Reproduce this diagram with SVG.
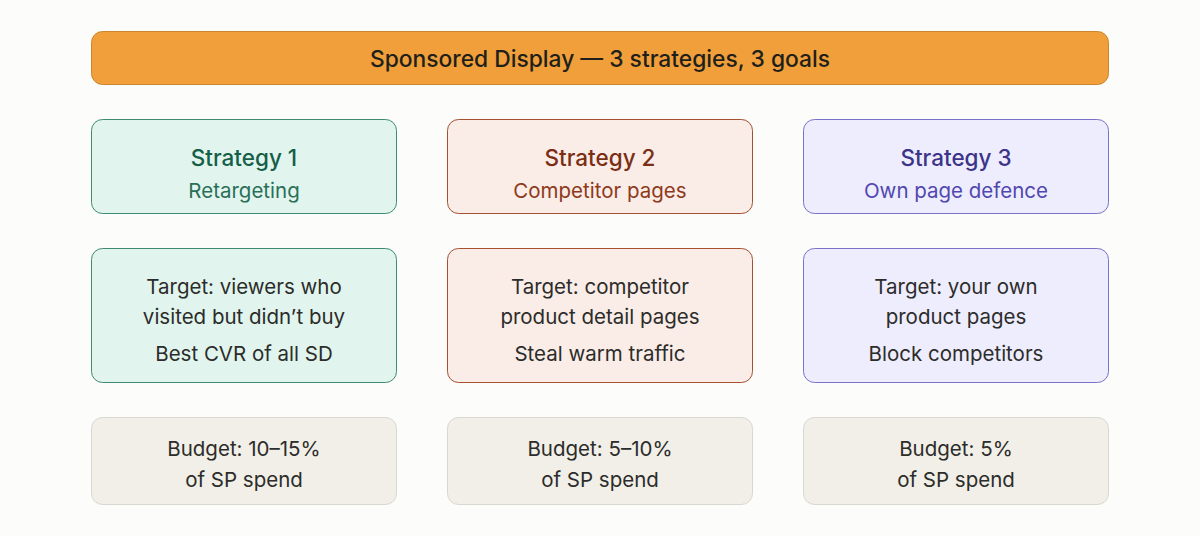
<svg xmlns="http://www.w3.org/2000/svg" width="1200" height="536" viewBox="0 0 1200 536">
<style>
text{font-family:Inter,"Noto Sans","Liberation Sans",sans-serif;text-anchor:middle}
.t{font-size:22.8px;font-weight:500;fill:#1f1f1c}
.h{font-size:22.5px;font-weight:500}
.s{font-size:20.5px}
.b{font-size:20.5px;fill:#2c2c2a}
.g rect{fill:#e1f5ee;stroke:#3f8a72}
.r rect{fill:#faece7;stroke:#a5502f}
.p rect{fill:#eeedfe;stroke:#7a72c8}
.n rect{fill:#f1efe8;stroke:#d9d7cf}
.g text.c{fill:#155e48}
.r text.c{fill:#7a2e14}
.p text.c{fill:#3c3489}
.p text.s{fill:#5048b0}
.g text.s{fill:#2a6f58}
.r text.s{fill:#8e3a1a}
</style>
<rect width="1200" height="536" fill="#fcfcfa"/>
<g id="title"><rect x="91.5" y="31.5" width="1017" height="53" rx="11" fill="#f09f3a" stroke="#c98530"/><text class="t" x="600" y="67">Sponsored Display — 3 strategies, 3 goals</text></g>
<g id="s1" class="g"><rect x="91.5" y="119.5" width="305" height="94" rx="11"/><text class="c h" x="244" y="166">Strategy 1</text><text class="c s" x="244" y="198">Retargeting</text></g>
<g id="s2" class="r"><rect x="447.5" y="119.5" width="305" height="94" rx="11"/><text class="c h" x="600" y="166">Strategy 2</text><text class="c s" x="600" y="198">Competitor pages</text></g>
<g id="s3" class="p"><rect x="803.5" y="119.5" width="305" height="94" rx="11"/><text class="c h" x="956" y="166">Strategy 3</text><text class="c s" x="956" y="198">Own page defence</text></g>
<g id="t1" class="g"><rect x="91.5" y="248.5" width="305" height="134" rx="11"/><text class="b" x="244" y="294">Target: viewers who</text><text class="b" x="244" y="324">visited but didn’t buy</text><text class="b" x="244" y="361">Best CVR of all SD</text></g>
<g id="t2" class="r"><rect x="447.5" y="248.5" width="305" height="134" rx="11"/><text class="b" x="600" y="294">Target: competitor</text><text class="b" x="600" y="324">product detail pages</text><text class="b" x="600" y="361">Steal warm traffic</text></g>
<g id="t3" class="p"><rect x="803.5" y="248.5" width="305" height="134" rx="11"/><text class="b" x="956" y="294">Target: your own</text><text class="b" x="956" y="324">product pages</text><text class="b" x="956" y="361">Block competitors</text></g>
<g id="b1" class="n"><rect x="91.5" y="417.5" width="305" height="87" rx="11"/><text class="b" x="244" y="456">Budget: 10–15%</text><text class="b" x="244" y="487">of SP spend</text></g>
<g id="b2" class="n"><rect x="447.5" y="417.5" width="305" height="87" rx="11"/><text class="b" x="600" y="456">Budget: 5–10%</text><text class="b" x="600" y="487">of SP spend</text></g>
<g id="b3" class="n"><rect x="803.5" y="417.5" width="305" height="87" rx="11"/><text class="b" x="956" y="456">Budget: 5%</text><text class="b" x="956" y="487">of SP spend</text></g>
<g id="connectors"/>
</svg>
